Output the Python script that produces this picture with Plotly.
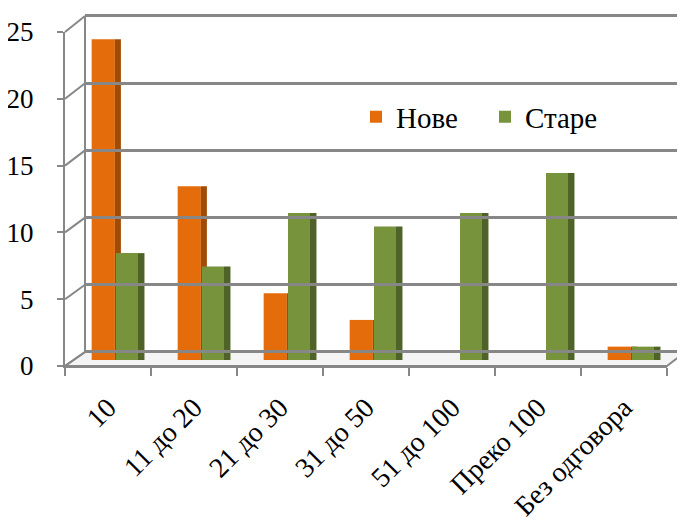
import plotly.graph_objects as go

categories = ["10", "11 до 20", "21 до 30", "31 до 50", "51 до 100", "Преко 100", "Без одговора"]
nove = [24, 13, 5, 3, 0, 0, 1]
stare = [8, 7, 11, 10, 11, 14, 1]
y_ticks = [0, 5, 10, 15, 20, 25]

# page is 685x522; the html body adds an 8px margin, so the figure is 677x514
OFF = 8
W, H = 685 - OFF, 522 - OFF
def px(x): return (x - OFF) / W          # page pixel -> paper fraction
def py(y): return 1 - (y - OFF) / H

# geometry (page pixels)
FX0, FX1, FY0, FY25 = 65, 667, 366, 32      # front axes
BX0, BX1, BY0, BY25 = 85, 685, 352, 16      # back wall
BAR0, BAR25 = 360, 26                        # bars plane
PAD = 0.1                                    # extra range on the grid axis so the edge lines show
GS = (BY0 - BY25) / 25

FONT = "Liberation Serif, Times New Roman, serif"
GRID = "#878787"
ORANGE, ORANGE_SIDE = "#E46C0A", "#A04C06"
GREEN, GREEN_SIDE = "#77933C", "#4F6228"

fig = go.Figure()
# orange: front face + right side face
fig.add_trace(go.Bar(x=categories, y=nove, name="Нове", marker=dict(color=ORANGE, line=dict(width=0)),
                     offset=-0.19, width=0.27, xaxis="x", yaxis="y"))
fig.add_trace(go.Bar(x=categories, y=nove, name="Нове", showlegend=False, hoverinfo="skip",
                     marker=dict(color=ORANGE_SIDE, line=dict(width=0)),
                     offset=0.08, width=0.07, xaxis="x", yaxis="y"))
# green: front face + right side face
fig.add_trace(go.Bar(x=categories, y=stare, name="Старе", marker=dict(color=GREEN, line=dict(width=0)),
                     offset=0.093, width=0.256, xaxis="x", yaxis="y"))
fig.add_trace(go.Bar(x=categories, y=stare, name="Старе", showlegend=False, hoverinfo="skip",
                     marker=dict(color=GREEN_SIDE, line=dict(width=0)),
                     offset=0.349, width=0.075, xaxis="x", yaxis="y"))
# invisible helper traces so the front-label axis and the back-wall grid axis get drawn
fig.add_trace(go.Scatter(x=[categories[0]], y=[y_ticks[0]], mode="markers", marker=dict(opacity=0),
                         showlegend=False, hoverinfo="skip", xaxis="x", yaxis="y2"))
fig.add_trace(go.Scatter(x=[0], y=[y_ticks[0]], mode="markers", marker=dict(opacity=0),
                         showlegend=False, hoverinfo="skip", xaxis="x2", yaxis="y3"))

def fy(v): return FY0 + (FY25 - FY0) * v / 25
def by(v): return BY0 + (BY25 - BY0) * v / 25

shapes = []
# floor
shapes.append(dict(type="path", xref="paper", yref="paper", layer="below",
                   path=f"M {px(FX0)},{py(FY0)} L {px(FX1)},{py(FY0)} L {px(BX1)},{py(BY0)} L {px(BX0)},{py(BY0)} Z",
                   fillcolor="#F4F4F4", line=dict(color=GRID, width=2)))
# diagonal connectors from front ticks to back wall
for v in y_ticks:
    shapes.append(dict(type="line", xref="paper", yref="paper", layer="below",
                       x0=px(FX0), y0=py(fy(v)), x1=px(BX0), y1=py(by(v)),
                       line=dict(color=GRID, width=2)))
# back wall left edge
shapes.append(dict(type="line", xref="paper", yref="paper", layer="below",
                   x0=px(BX0), y0=py(BY0), x1=px(BX0), y1=py(BY25), line=dict(color=GRID, width=2)))

fig.update_layout(
    width=W, height=H,
    margin=dict(l=0, r=0, t=0, b=0, pad=0, autoexpand=False),
    paper_bgcolor="white", plot_bgcolor="rgba(0,0,0,0)",
    barmode="overlay",
    showlegend=True,
    legend=dict(orientation="h", x=px(356), y=py(117), xanchor="left", yanchor="middle",
                entrywidth=84, entrywidthmode="pixels",
                font=dict(family=FONT, size=29, color="black"), bgcolor="rgba(0,0,0,0)"),
    font=dict(family=FONT, color="black"),
    xaxis=dict(domain=[px(FX0), px(FX1)], anchor="y2", tickangle=-45, tickson="boundaries",
               ticks="outside", ticklen=8, tickwidth=2, tickcolor=GRID, ticklabelstandoff=12,
               showline=True, linecolor=GRID, linewidth=2, showgrid=False, automargin=False,
               tickfont=dict(family=FONT, size=28, color="black")),
    yaxis=dict(domain=[py(BAR0), py(BAR25)], range=[0, 25], anchor="x", visible=False, automargin=False),
    yaxis2=dict(domain=[py(FY0), py(FY25)], range=[0, 25], anchor="x", tickvals=y_ticks,
                ticks="outside", ticklen=6, tickwidth=2, tickcolor=GRID, ticklabelstandoff=18,
                showline=True, linecolor=GRID, linewidth=2, showgrid=False, zeroline=False, automargin=False,
                tickfont=dict(family=FONT, size=27, color="black")),
    xaxis2=dict(domain=[px(BX0), px(BX1)], anchor="y3", visible=False, range=[0, 1], automargin=False),
    yaxis3=dict(domain=[py(BY0 + PAD * GS), py(BY25 - PAD * GS)], range=[-PAD, 25 + PAD], anchor="x2",
                tickvals=y_ticks, showticklabels=False, ticks="", showgrid=True, gridcolor=GRID, gridwidth=2.5,
                showline=False, zeroline=False, automargin=False),
    shapes=shapes,
)

fig.write_html("out.html")
